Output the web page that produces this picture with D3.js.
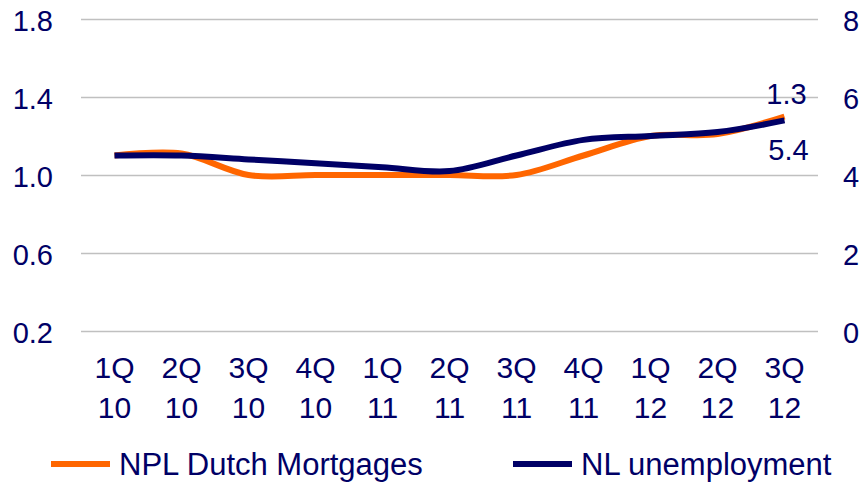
<!DOCTYPE html>
<html>
<head>
<meta charset="utf-8">
<script src="https://cdn.jsdelivr.net/npm/d3@7"></script>
<style>
  body { margin: 0; background: #fff; }
  svg { display: block; font-family: "Liberation Sans", Arial, sans-serif; }
  .axis text { fill: #000066; font-size: 29px; }
  .axis path.domain { display: none; }
  .xaxis text { font-size: 30px; }
</style>
</head>
<body>
<script>
// data
const quarters = ["1Q 10", "2Q 10", "3Q 10", "4Q 10", "1Q 11", "2Q 11", "3Q 11", "4Q 11", "1Q 12", "2Q 12", "3Q 12"]
const nplMortgages = [1.10, 1.11, 1.00, 1.00, 1.00, 1.00, 1.00, 1.10, 1.20, 1.21, 1.30]
const unemployment = [4.5, 4.5, 4.4, 4.3, 4.2, 4.1, 4.5, 4.9, 5.0, 5.1, 5.4]
const leftTicks = [0.2, 0.6, 1.0, 1.4, 1.8]
const rightTicks = [0, 2, 4, 6, 8]
const seriesNames = ["NPL Dutch Mortgages", "NL unemployment"]

const WIDTH = 864
const HEIGHT = 482
const ORANGE = "#ff6600"
const NAVY = "#000066"

const svg = d3.select("body").append("svg")
  .attr("width", WIDTH)
  .attr("height", HEIGHT)

const plot = { left: 81, right: 818, top: 19, bottom: 331 }

const x = d3.scaleBand().domain(quarters).range([plot.left, plot.right]).padding(0)
const xc = d => x(d) + x.bandwidth() / 2
const yL = d3.scaleLinear().domain([0.2, 1.8]).range([plot.bottom, plot.top])
const yR = d3.scaleLinear().domain([0, 8]).range([plot.bottom, plot.top])

// gridlines
svg.append("g")
  .attr("transform", "translate(" + plot.left + ",0)")
  .call(d3.axisLeft(yL).tickValues(leftTicks).tickSize(-(plot.right - plot.left)).tickFormat(""))
  .call(g => g.select(".domain").remove())
  .call(g => g.selectAll("line").attr("stroke", "#c0c0c0").attr("stroke-width", 1.6))

// left axis
svg.append("g")
  .attr("class", "axis")
  .attr("transform", "translate(" + plot.left + ",0)")
  .call(d3.axisLeft(yL).tickValues(leftTicks).tickSize(0).tickPadding(28).tickFormat(d3.format(".1f")))
  .selectAll("text").attr("dy", "0.4em")

// right axis
svg.append("g")
  .attr("class", "axis")
  .attr("transform", "translate(" + plot.right + ",0)")
  .call(d3.axisRight(yR).tickValues(rightTicks).tickSize(0).tickPadding(25))
  .selectAll("text").attr("dy", "0.38em")

// bottom axis, labels on two lines
const xAxis = svg.append("g")
  .attr("class", "axis xaxis")
  .attr("transform", "translate(0," + plot.bottom + ")")
  .call(d3.axisBottom(x).tickSize(0).tickFormat(""))

xAxis.selectAll(".tick text").remove()
xAxis.selectAll(".tick").append("text")
  .attr("text-anchor", "middle")
  .each(function(d) {
    const parts = d.split(" ")
    const t = d3.select(this)
    t.append("tspan").attr("x", 0).attr("y", 47).text(parts[0])
    t.append("tspan").attr("x", 0).attr("y", 87).text(parts[1])
  })

// lines
const lineL = d3.line()
  .x((d, i) => xc(quarters[i]))
  .y(d => yL(d))
  .curve(d3.curveCardinal.tension(0))

const lineR = d3.line()
  .x((d, i) => xc(quarters[i]))
  .y(d => yR(d))
  .curve(d3.curveCardinal.tension(0))

svg.append("path")
  .datum(nplMortgages)
  .attr("fill", "none")
  .attr("stroke", ORANGE)
  .attr("stroke-width", 6)
  .attr("d", lineL)

svg.append("path")
  .datum(unemployment)
  .attr("fill", "none")
  .attr("stroke", NAVY)
  .attr("stroke-width", 6)
  .attr("d", lineR)

// end labels
const last = quarters.length - 1
svg.append("text")
  .attr("x", xc(quarters[last]) + 2)
  .attr("y", yL(nplMortgages[last]) - 13)
  .attr("text-anchor", "middle")
  .attr("fill", NAVY)
  .attr("font-size", 29)
  .text(nplMortgages[last].toFixed(1))

svg.append("text")
  .attr("x", xc(quarters[last]) + 4)
  .attr("y", yR(unemployment[last]) + 40)
  .attr("text-anchor", "middle")
  .attr("fill", NAVY)
  .attr("font-size", 29)
  .text(unemployment[last].toFixed(1))

// legend
const legendItems = [
  { name: seriesNames[0], color: ORANGE, x: 51 },
  { name: seriesNames[1], color: NAVY, x: 513 }
]
const legend = svg.selectAll(".legend")
  .data(legendItems)
  .enter().append("g")
  .attr("class", "legend")
  .attr("transform", d => "translate(" + d.x + ",464)")

legend.append("line")
  .attr("x1", 0).attr("x2", 59)
  .attr("stroke", d => d.color)
  .attr("stroke-width", 6)

legend.append("text")
  .attr("x", 68)
  .attr("y", 11)
  .attr("fill", NAVY)
  .attr("font-size", 31)
  .text(d => d.name)
</script>
</body>
</html>
